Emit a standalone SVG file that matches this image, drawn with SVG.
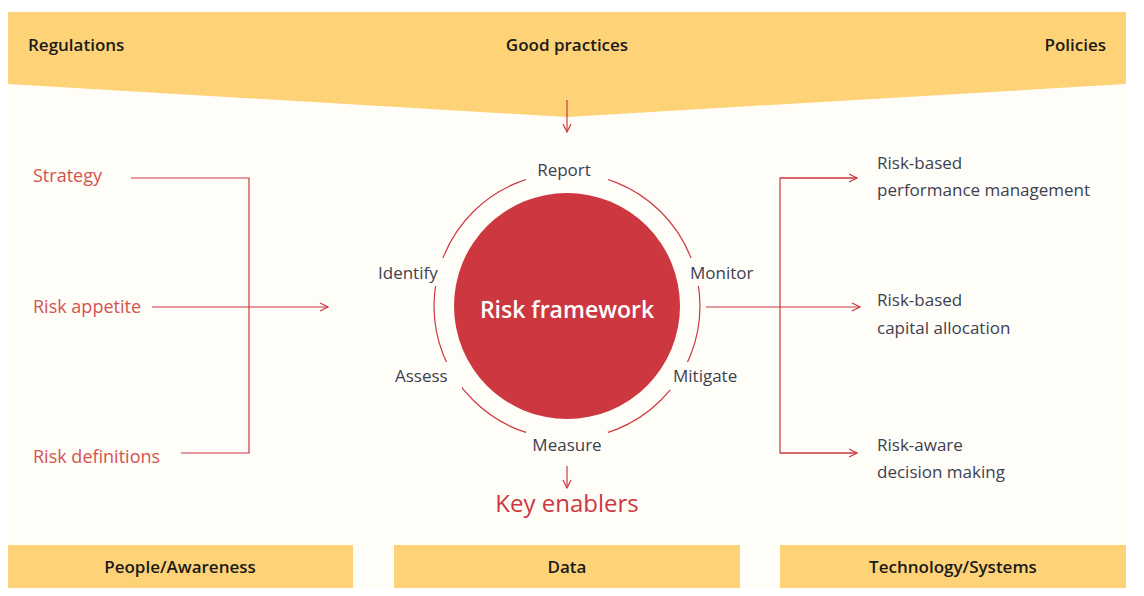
<svg xmlns="http://www.w3.org/2000/svg" width="1144" height="596" viewBox="0 0 1144 596">
<defs>
<marker id="a" viewBox="0 0 10 10" refX="9" refY="5" markerWidth="10" markerHeight="10" markerUnits="userSpaceOnUse" orient="auto"><path d="M1,1 L9,5 L1,9" fill="none" stroke="#cc3a40" stroke-width="1.2"/></marker>
<style>
.t{font-family:"Open Sans","DejaVu Sans",sans-serif;}
.b{font-size:17px;font-weight:600;fill:#1a1a1a;}
.g{font-size:17px;fill:#3d4150;}
.r{font-size:18px;fill:#d4534f;}
.ln{fill:none;stroke:#cc3a40;stroke-width:1.2;}
.bar{fill:#fed377;}
</style>
</defs>
<rect width="1144" height="596" fill="#fff"/>
<rect x="8" y="12" width="1118" height="576" fill="#fffdf8"/>
<g id="top"><polygon class="bar" points="8,12 1126,12 1126,84 567,117 8,84"/>
<text class="t b" x="28" y="51">Regulations</text>
<text class="t b" x="567" y="51" text-anchor="middle">Good practices</text>
<text class="t b" x="1106" y="51" text-anchor="end">Policies</text></g>
<g id="core">
<circle cx="567" cy="306" r="133" class="ln"/>
<circle cx="567" cy="306" r="113" fill="#cc3740"/>
<text class="t" x="567" y="318" text-anchor="middle" font-size="23" font-weight="600" fill="#fff">Risk framework</text>
</g>
<g id="labels" class="t g">
<rect x="526" y="156" width="82" height="26" fill="#fffdf8"/><text x="564" y="176" text-anchor="middle">Report</text>
<rect x="374" y="258" width="72" height="28" fill="#fffdf8"/><text x="378" y="279">Identify</text>
<rect x="688" y="258" width="72" height="28" fill="#fffdf8"/><text x="690" y="279">Monitor</text>
<rect x="392" y="362" width="70" height="28" fill="#fffdf8"/><text x="395" y="382">Assess</text>
<rect x="670" y="362" width="76" height="28" fill="#fffdf8"/><text x="673" y="382">Mitigate</text>
<rect x="526" y="432" width="82" height="26" fill="#fffdf8"/><text x="567" y="451" text-anchor="middle">Measure</text>
</g>
<g id="connectors">
<path class="ln" d="M567,100 V132" marker-end="url(#a)"/>
<path class="ln" d="M567,466 V488" marker-end="url(#a)"/>
<path class="ln" d="M131,178 H249 V453 H181"/>
<path class="ln" d="M152,307 H328" marker-end="url(#a)"/>
<path class="ln" d="M706,307 H780"/>
<path class="ln" d="M857,178 H780 V453 H857" />
<path class="ln" d="M780,178 H857" marker-end="url(#a)"/>
<path class="ln" d="M780,307 H860" marker-end="url(#a)"/>
<path class="ln" d="M780,453 H857" marker-end="url(#a)"/>
</g>
<g id="left" class="t r">
<text x="33" y="182">Strategy</text>
<text x="33" y="313">Risk appetite</text>
<text x="33" y="463">Risk definitions</text>
</g>
<g id="right" class="t g">
<text x="877" y="169">Risk-based</text><text x="877" y="196">performance management</text>
<text x="877" y="306">Risk-based</text><text x="877" y="334">capital allocation</text>
<text x="877" y="451">Risk-aware</text><text x="877" y="478">decision making</text>
</g>
<text id="ke" class="t" x="567" y="512" text-anchor="middle" font-size="24" font-weight="500" fill="#cc3740">Key enablers</text>
<g id="p"><rect class="bar" x="8" y="545" width="345" height="43"/><text class="t b" x="180" y="573" text-anchor="middle">People/Awareness</text></g>
<g id="d"><rect class="bar" x="394" y="545" width="346" height="43"/><text class="t b" x="567" y="573" text-anchor="middle">Data</text></g>
<g id="s"><rect class="bar" x="780" y="545" width="346" height="43"/><text class="t b" x="953" y="573" text-anchor="middle">Technology/Systems</text></g>
</svg>
